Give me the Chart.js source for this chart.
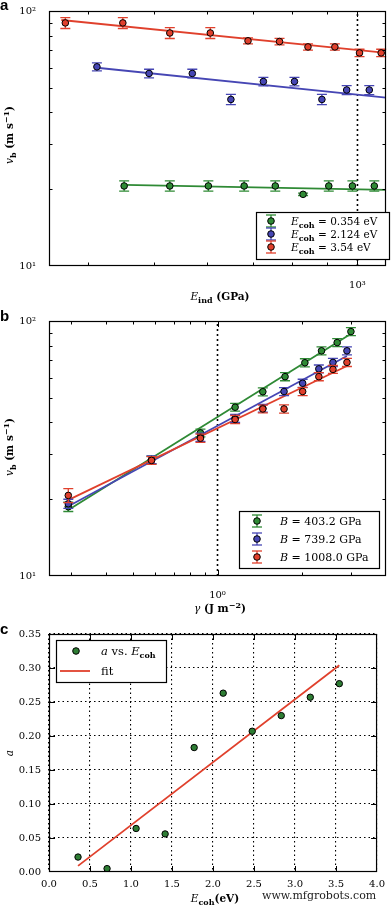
<!DOCTYPE html>
<html>
<head>
<meta charset="utf-8">
<script src="https://cdn.jsdelivr.net/npm/chart.js@4.4.0/dist/chart.umd.min.js"></script>
<style>
  html, body { margin: 0; padding: 0; background: #fff; }
  body { width: 391px; height: 907px; position: relative; overflow: hidden; }
  canvas { position: absolute; left: 0; }
  #wm { position: absolute; left: 262px; top: 889px; font: 11px 'DejaVu Serif', serif; color: #222; white-space: nowrap; }
</style>
</head>
<body>
<canvas id="pa" width="391" height="310" style="top:0"></canvas>
<canvas id="pb" width="391" height="310" style="top:310px"></canvas>
<canvas id="pc" width="391" height="287" style="top:620px"></canvas>
<div id="wm">www.mfgrobots.com</div>
<script>
'use strict';

// ---------------------------------------------------------------------------
// Data
// ---------------------------------------------------------------------------
// panel a: v_b vs E_ind, one series per E_coh
const EIND_LOW  = [452, 528, 602, 680, 756, 831, 907, 983, 1059];
const V_LOW     = [20.6, 20.6, 20.6, 20.6, 20.6, 19.1, 20.6, 20.6, 20.6];
const ERR_LOW   = [0.95, 0.95, 0.95, 0.95, 0.95, 0.2, 0.95, 0.95, 0.95];
const EIND_MID  = [412, 492, 570, 650, 726, 807, 886, 964, 1041];
const V_MID     = [60.4, 56.9, 56.9, 45.0, 52.9, 52.9, 45.0, 49.0, 49.0];
const ERR_MID   = [2.2, 2.2, 2.2, 2.1, 2.0, 2.0, 2.1, 2.0, 2.0];
const EIND_HIGH = [370, 450, 528, 606, 689, 767, 845, 926, 1007, 1084];
const V_HIGH    = [89.8, 89.8, 82.0, 82.0, 76.4, 75.9, 72.3, 72.3, 68.5, 68.5];
const ERR_HIGH  = [4.4, 4.4, 4.0, 4.0, 2.1, 2.2, 2.0, 2.0, 2.3, 2.3];
// fitted power laws (end points)
const FIT_LOW_E  = [452, 1102];  const FIT_LOW_V  = [20.8, 19.9];
const FIT_MID_E  = [412, 1102];  const FIT_MID_V  = [59.9, 45.7];
const FIT_HIGH_E = [365, 1102];  const FIT_HIGH_V = [92.2, 68.5];
const ECOH_LABELS = ['0.354', '2.124', '3.54'];

// panel b: v_b vs gamma, one series per B
const GAMMA_G  = [0.293, 0.581, 0.869, 1.156, 1.452, 1.743, 2.052, 2.353, 2.677, 2.997];
const GAMMA_RB = [0.293, 0.581, 0.869, 1.156, 1.452, 1.729, 2.015, 2.302, 2.585, 2.901];
const VB_G  = [18.7, 28.5, 36.4, 45.9, 52.8, 60.5, 68.6, 76.4, 82.3, 90.9];
const VB_B  = [19.2, 28.6, 35.0, 41.5, 45.5, 52.9, 57.0, 64.9, 68.8, 76.4];
const VB_R  = [20.7, 28.4, 34.7, 41.1, 45.2, 45.2, 52.9, 60.5, 64.6, 68.8];
const EB_G  = [0.8, 1.0, 1.3, 1.6, 1.9, 2.2, 2.5, 2.8, 3.0, 3.3];
const EB_B  = [0.8, 1.0, 1.3, 1.5, 1.6, 1.9, 2.1, 2.3, 2.5, 2.7];
const EB_R  = [1.3, 1.0, 1.3, 1.5, 1.6, 1.7, 1.9, 2.2, 2.3, 2.5];
const FIT_G_X = [0.291, 3.0];  const FIT_G_Y = [18.06, 89.2];
const FIT_B_X = [0.291, 2.90]; const FIT_B_Y = [18.7, 72.9];
const FIT_R_X = [0.291, 2.90]; const FIT_R_Y = [19.8, 66.6];
const B_LABELS = ['403.2', '739.2', '1008.0'];

// panel c: a vs E_coh
const ECOH  = [0.354, 0.708, 1.062, 1.416, 1.77, 2.124, 2.478, 2.832, 3.186, 3.54];
const A_VAL = [0.022, 0.005, 0.064, 0.056, 0.183, 0.263, 0.207, 0.230, 0.257, 0.277];
const FIT_C_E = [0.354, 3.54];
const FIT_C_A = [0.009, 0.304];

// ticks
const LOG_Y_TICKS  = [10, 20, 30, 40, 50, 60, 70, 80, 90, 100];
const EIND_TICKS   = [400, 500, 600, 700, 800, 900, 1000];
const GAMMA_TICKS  = [0.3, 0.4, 0.5, 0.6, 0.7, 0.8, 0.9, 1, 2, 3];
const POW_LABEL = { 1: '10⁰', 10: '10¹', 100: '10²', 1000: '10³' };

// ---------------------------------------------------------------------------
// Style
// ---------------------------------------------------------------------------
const SERIF = "'DejaVu Serif', serif";
const GREEN = '#2f8a35', BLUE = '#4646b4', RED = '#e0402c';

function pts(xs, ys) { return xs.map((x, i) => ({ x, y: ys[i] })); }

function errSet(xs, ys, errs, color, order) {
  return {
    data: pts(xs, ys), errors: errs, errColor: color, showLine: false, order,
    pointRadius: 3.3, pointBackgroundColor: color, pointBorderColor: '#000', pointBorderWidth: 1,
  };
}

function lineSet(xs, ys, color, width, dash, order) {
  return {
    data: pts(xs, ys), showLine: true, borderColor: color, borderWidth: width,
    borderDash: dash || [], pointRadius: 0, order,
  };
}

function logAxis(min, max, ticks, size) {
  return {
    type: 'logarithmic', min, max,
    afterBuildTicks: s => { s.ticks = ticks.map(v => ({ value: v })); },
    ticks: {
      autoSkip: false, maxRotation: 0, color: '#000', padding: 5,
      font: { family: SERIF, size: 10 },
      callback: v => POW_LABEL[v] || '',
    },
    grid: { display: false },
    border: { display: false },
    afterFit: s => { if (s.isHorizontal()) s.height = size; else s.width = size; },
  };
}

// ---------------------------------------------------------------------------
// Rich text (italic symbols, bold subscripts, superscripts)
// ---------------------------------------------------------------------------
function fontFor(kind, size) {
  if (kind === 'i') return `italic ${size}px ${SERIF}`;
  if (kind === 'b') return `bold ${size}px ${SERIF}`;
  if (kind === 'sub' || kind === 'sup') return `bold ${Math.round(size * 0.72)}px ${SERIF}`;
  return `${size}px ${SERIF}`;
}

function richWidth(ctx, parts, size) {
  let w = 0;
  parts.forEach(([t, k]) => { ctx.font = fontFor(k, size); w += ctx.measureText(t).width; });
  return w;
}

function drawRich(ctx, parts, x, y, size, align) {
  let cx = align === 'center' ? x - richWidth(ctx, parts, size) / 2 : x;
  ctx.textBaseline = 'alphabetic';
  ctx.textAlign = 'left';
  ctx.fillStyle = '#000';
  parts.forEach(([t, k]) => {
    ctx.font = fontFor(k, size);
    const dy = k === 'sub' ? size * 0.28 : k === 'sup' ? -size * 0.42 : 0;
    ctx.fillText(t, cx, y + dy);
    cx += ctx.measureText(t).width;
  });
}

// ---------------------------------------------------------------------------
// Decoration plugin: error bars, frame, inward ticks, legend, titles
// ---------------------------------------------------------------------------
function decor(cfg) {
  return {
    id: 'decor',
    beforeDatasetDraw(chart, args) {
      const ds = chart.data.datasets[args.index];
      if (!ds.errors) return;
      const { ctx, scales: { x, y } } = chart;
      ctx.save();
      ctx.strokeStyle = ds.errColor;
      ctx.lineWidth = 1.3;
      ds.data.forEach((p, i) => {
        const e = ds.errors[i];
        const px = x.getPixelForValue(p.x);
        const y1 = y.getPixelForValue(p.y - e), y2 = y.getPixelForValue(p.y + e);
        ctx.beginPath();
        ctx.moveTo(px, y1); ctx.lineTo(px, y2);
        ctx.moveTo(px - 5, y1); ctx.lineTo(px + 5, y1);
        ctx.moveTo(px - 5, y2); ctx.lineTo(px + 5, y2);
        ctx.stroke();
      });
      ctx.restore();
    },
    afterDraw(chart) {
      const { ctx, chartArea: a, scales: { x, y } } = chart;
      ctx.save();
      ctx.strokeStyle = '#000';
      ctx.lineWidth = 1;
      const seg = (x1, y1, x2, y2) => { ctx.beginPath(); ctx.moveTo(x1, y1); ctx.lineTo(x2, y2); ctx.stroke(); };
      const isMajor = v => !cfg.log || Math.abs(Math.log10(v) - Math.round(Math.log10(v))) < 1e-9;

      x.ticks.forEach(t => {
        const px = Math.round(x.getPixelForValue(t.value)) + 0.5;
        if (px < a.left + 1 || px > a.right - 1) return;
        const L = isMajor(t.value) ? 6 : 3.5;
        seg(px, a.bottom, px, a.bottom - L);
        seg(px, a.top, px, a.top + L);
      });
      y.ticks.forEach(t => {
        const py = Math.round(y.getPixelForValue(t.value)) + 0.5;
        if (py < a.top + 1 || py > a.bottom - 1) return;
        const L = isMajor(t.value) ? 6 : 3.5;
        seg(a.left, py, a.left + L, py);
        seg(a.right, py, a.right - L, py);
      });
      ctx.lineWidth = 1.2;
      ctx.strokeRect(a.left + 0.5, a.top + 0.5, a.right - a.left - 1, a.bottom - a.top - 1);

      // legend
      const lg = cfg.legend;
      if (lg) {
        ctx.fillStyle = '#fff';
        ctx.fillRect(lg.box[0], lg.box[1], lg.box[2], lg.box[3]);
        ctx.lineWidth = 1.2;
        ctx.strokeRect(lg.box[0] + 0.5, lg.box[1] + 0.5, lg.box[2] - 1, lg.box[3] - 1);
        lg.items.forEach((it, i) => {
          const cy = lg.rows[i], mx = lg.markX;
          if (it.kind === 'err' || it.kind === 'dot') {
            if (it.kind === 'err') {
              ctx.strokeStyle = it.color; ctx.lineWidth = 1.3;
              seg(mx, cy - 6, mx, cy + 6);
              seg(mx - 5, cy - 6, mx + 5, cy - 6);
              seg(mx - 5, cy + 6, mx + 5, cy + 6);
            }
            ctx.beginPath();
            ctx.arc(mx, cy, 3.3, 0, Math.PI * 2);
            ctx.fillStyle = it.color; ctx.fill();
            ctx.strokeStyle = '#000'; ctx.lineWidth = 1; ctx.stroke();
          } else {
            ctx.strokeStyle = it.color; ctx.lineWidth = 1.8;
            seg(mx - 16, cy, mx + 14, cy);
          }
          drawRich(ctx, it.parts, lg.textX, cy + 4, lg.size, 'left');
        });
      }

      // axis titles
      drawRich(ctx, cfg.xTitle, cfg.xTitlePos[0], cfg.xTitlePos[1], 10.5, 'center');
      ctx.save();
      ctx.translate(cfg.yTitlePos[0], cfg.yTitlePos[1]);
      ctx.rotate(-Math.PI / 2);
      drawRich(ctx, cfg.yTitle, 0, 0, 10.5, 'center');
      ctx.restore();

      // panel letter
      ctx.fillStyle = '#000';
      ctx.font = "bold 15px 'Liberation Sans', Arial, sans-serif";
      ctx.textAlign = 'left';
      ctx.textBaseline = 'alphabetic';
      ctx.fillText(cfg.letter, 0, cfg.letterY);
      ctx.restore();
    },
  };
}

const BASE_OPTS = {
  responsive: false,
  animation: false,
  devicePixelRatio: 1,
  events: [],
  plugins: { legend: { display: false }, tooltip: { enabled: false } },
};

const VB_TITLE = [['v', 'i'], ['b', 'sub'], [' (m s', 'b'], ['−1', 'sup'], [')', 'b']];

// ---------------------------------------------------------------------------
// Panel a
// ---------------------------------------------------------------------------
new Chart(document.getElementById('pa'), {
  type: 'scatter',
  data: {
    datasets: [
      lineSet([1000, 1000], [10, 100], '#000', 1.6, [2, 3], 9),
      lineSet(FIT_LOW_E, FIT_LOW_V, GREEN, 1.8, null, 8),
      lineSet(FIT_MID_E, FIT_MID_V, BLUE, 1.8, null, 7),
      lineSet(FIT_HIGH_E, FIT_HIGH_V, RED, 1.8, null, 6),
      errSet(EIND_LOW, V_LOW, ERR_LOW, GREEN, 3),
      errSet(EIND_MID, V_MID, ERR_MID, BLUE, 2),
      errSet(EIND_HIGH, V_HIGH, ERR_HIGH, RED, 1),
    ],
  },
  options: {
    ...BASE_OPTS,
    layout: { padding: { top: 10, right: 1, left: 0, bottom: 0 } },
    scales: {
      x: logAxis(350, 1102, EIND_TICKS, 44),
      y: logAxis(10, 100, LOG_Y_TICKS, 49),
    },
  },
  plugins: [decor({
    log: true, letter: 'a', letterY: 10,
    xTitle: [['E', 'i'], ['ind', 'sub'], [' (GPa)', 'b']], xTitlePos: [220, 300],
    yTitle: VB_TITLE, yTitlePos: [13, 135],
    legend: {
      box: [256, 212, 134, 48], markX: 271, textX: 291, size: 10.5, rows: [221, 234, 247],
      items: [GREEN, BLUE, RED].map((c, i) => ({
        kind: 'err', color: c,
        parts: [['E', 'i'], ['coh', 'sub'], [' = ' + ECOH_LABELS[i] + ' eV', 'r']],
      })),
    },
  })],
});

// ---------------------------------------------------------------------------
// Panel b
// ---------------------------------------------------------------------------
new Chart(document.getElementById('pb'), {
  type: 'scatter',
  data: {
    datasets: [
      lineSet([1, 1], [10, 100], '#000', 1.6, [2, 3], 9),
      lineSet(FIT_G_X, FIT_G_Y, GREEN, 1.8, null, 8),
      lineSet(FIT_B_X, FIT_B_Y, BLUE, 1.8, null, 7),
      lineSet(FIT_R_X, FIT_R_Y, RED, 1.8, null, 6),
      errSet(GAMMA_G, VB_G, EB_G, GREEN, 3),
      errSet(GAMMA_RB, VB_B, EB_B, BLUE, 2),
      errSet(GAMMA_RB, VB_R, EB_R, RED, 1),
    ],
  },
  options: {
    ...BASE_OPTS,
    layout: { padding: { top: 9, right: 1, left: 0, bottom: 0 } },
    scales: {
      x: logAxis(0.25, 4.0, GAMMA_TICKS, 44),
      y: logAxis(10, 100, LOG_Y_TICKS, 49),
    },
  },
  plugins: [decor({
    log: true, letter: 'b', letterY: 11,
    xTitle: [['γ', 'i'], [' (J m', 'b'], ['−2', 'sup'], [')', 'b']], xTitlePos: [220, 302],
    yTitle: VB_TITLE, yTitlePos: [13, 137],
    legend: {
      box: [239, 201, 141, 58], markX: 257, textX: 280, size: 11, rows: [211, 229, 247],
      items: [GREEN, BLUE, RED].map((c, i) => ({
        kind: 'err', color: c,
        parts: [['B', 'i'], [' = ' + B_LABELS[i] + ' GPa', 'r']],
      })),
    },
  })],
});

// ---------------------------------------------------------------------------
// Panel c
// ---------------------------------------------------------------------------
const linTicks = (fmt, size) => ({
  autoSkip: false, maxRotation: 0, color: '#000', padding: size,
  font: { family: SERIF, size: 10 }, callback: fmt,
});

new Chart(document.getElementById('pc'), {
  type: 'scatter',
  data: {
    datasets: [
      lineSet(FIT_C_E, FIT_C_A, RED, 1.8, null, 5),
      {
        data: pts(ECOH, A_VAL), showLine: false, order: 1,
        pointRadius: 3.2, pointBackgroundColor: '#2e7d34', pointBorderColor: '#000', pointBorderWidth: 1,
      },
    ],
  },
  options: {
    ...BASE_OPTS,
    layout: { padding: { top: 12, right: 11, left: 0, bottom: 0 } },
    scales: {
      x: {
        type: 'linear', min: 0, max: 4,
        ticks: { ...linTicks(v => v.toFixed(1), 6), stepSize: 0.5 },
        grid: { color: '#000', lineWidth: 1.1, drawTicks: false },
        border: { display: false, dash: [1.5, 3] },
        afterFit: s => { s.height = 35; },
      },
      y: {
        type: 'linear', min: 0, max: 0.35,
        ticks: { ...linTicks(v => v.toFixed(2), 8), stepSize: 0.05 },
        grid: { color: '#000', lineWidth: 1.1, drawTicks: false },
        border: { display: false, dash: [1.5, 3] },
        afterFit: s => { s.width = 49; },
      },
    },
  },
  plugins: [decor({
    log: false, letter: 'c', letterY: 14,
    xTitle: [['E', 'i'], ['coh', 'sub'], ['(eV)', 'b']], xTitlePos: [215, 282],
    yTitle: [['a', 'i']], yTitlePos: [13, 133],
    legend: {
      box: [56, 20, 111, 43], markX: 76, textX: 101, size: 11.5, rows: [31, 51],
      items: [
        { kind: 'dot', color: '#2e7d34', parts: [['a', 'i'], [' vs. ', 'r'], ['E', 'i'], ['coh', 'sub']] },
        { kind: 'line', color: RED, parts: [['fit', 'r']] },
      ],
    },
  })],
});
</script>
</body>
</html>
